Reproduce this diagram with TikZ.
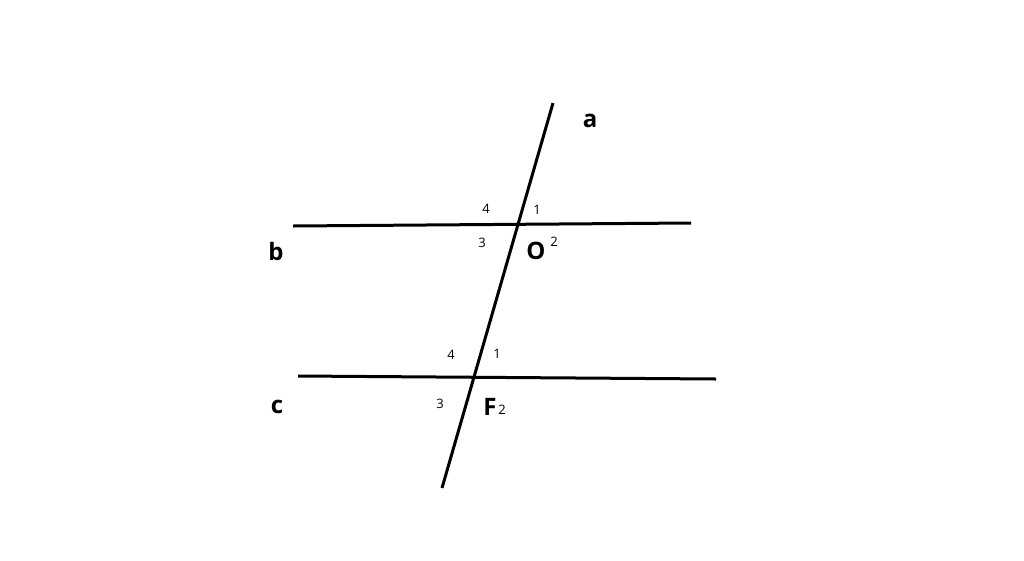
\documentclass[tikz,border=0pt]{standalone}
\usepackage{fontspec}
\setmainfont{Open Sans}
\begin{document}
\begin{tikzpicture}[x=1pt, y=-1pt, line width=3pt, font=\fontsize{14}{16}\selectfont,
  lbl/.style={font=\fontsize{24}{28}\selectfont\bfseries},
  ang/.style={font=\fontsize{13}{15}\selectfont}]

\useasboundingbox (0, 0) rectangle (1024, 560);

% the three lines
\coordinate (aTop) at (553, 103);
\coordinate (aBot) at (442, 488);
\coordinate (bL) at (293, 226);
\coordinate (bR) at (691, 223);
\coordinate (cL) at (298, 376);
\coordinate (cR) at (716, 379);

\draw (aTop) -- (aBot);
\draw (bL) -- (bR);
\draw (cL) -- (cR);

\node[lbl] (la) at (590, 121) {a};
\node[lbl] (lb) at (276, 251) {b};
\node[lbl] (lc) at (277, 407) {c};
\node[lbl] (lO) at (536, 251) {O};
\node[lbl] (lF) at (490, 407) {F};

% angles at O
\node[ang] (o4) at (486, 209) {4};
\node[ang] (o1) at (537, 210) {1};
\node[ang] (o3) at (482, 243) {3};
\node[ang] (o2) at (554, 242) {2};

% angles at F
\node[ang] (f4) at (451, 355) {4};
\node[ang] (f1) at (497, 354) {1};
\node[ang] (f3) at (440, 404) {3};
\node[ang] (f2) at (502, 410) {2};

\end{tikzpicture}
\end{document}
